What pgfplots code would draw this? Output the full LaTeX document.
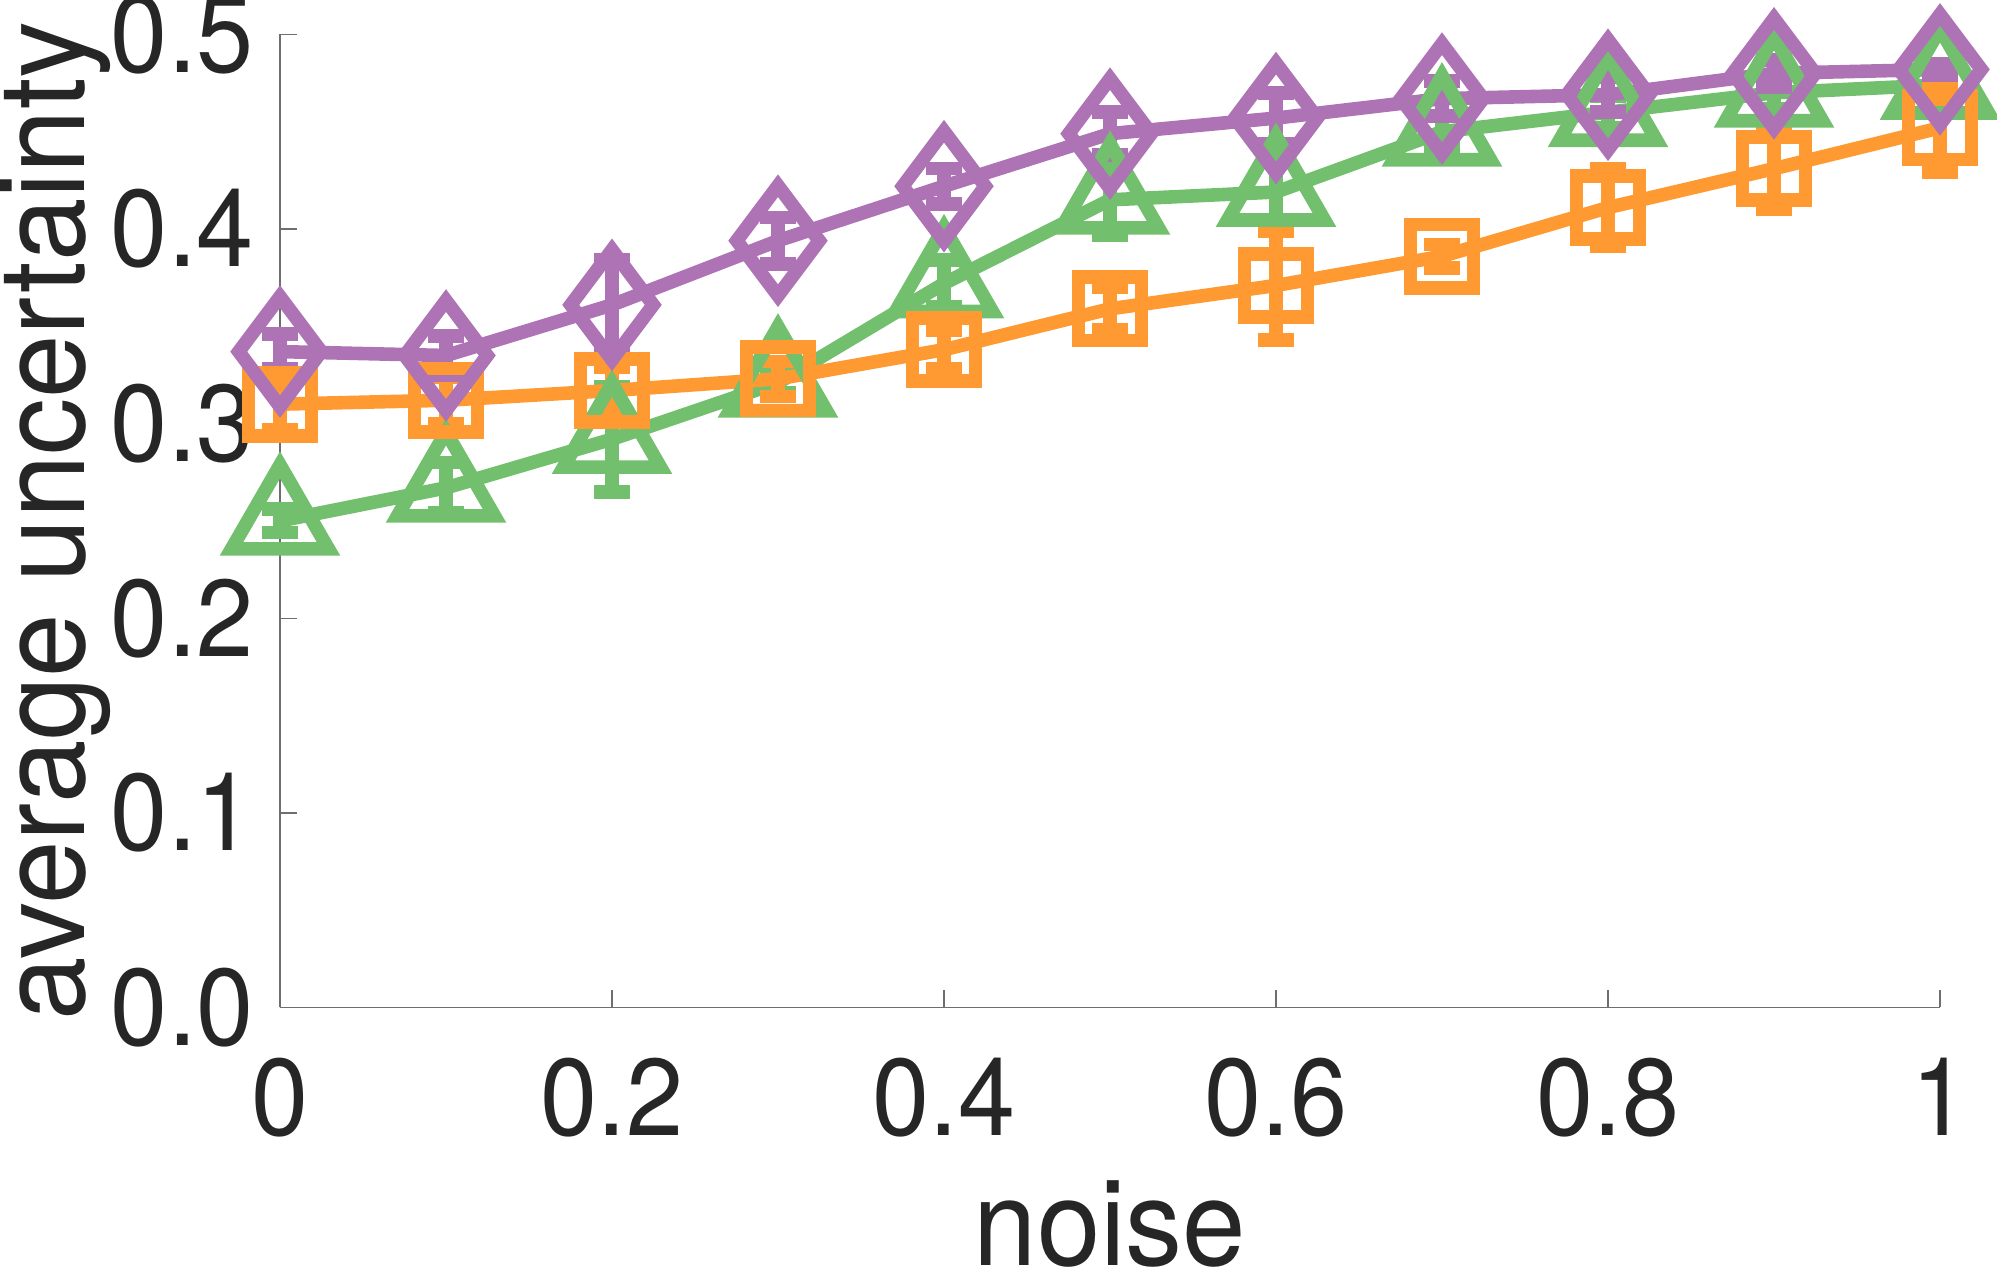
\documentclass[border=0pt]{standalone}
\usepackage{pgfplots}
\pgfplotsset{compat=1.18}
\usepackage{pgfplotstable}
\usepackage{fontspec}
\setmainfont{TeX Gyre Heros}
\definecolor{cgreen}{RGB}{114,191,110}
\definecolor{corange}{RGB}{255,154,51}
\definecolor{cpurple}{RGB}{173,115,181}
\definecolor{ctext}{RGB}{38,38,38}
\definecolor{caxis}{RGB}{110,110,110}

\pgfplotstableread{
x y e
0.0 0.250 0.006
0.1 0.267 0.013
0.2 0.292 0.027
0.3 0.321 0.005
0.4 0.372 0.012
0.5 0.415 0.018
0.6 0.419 0.020
0.7 0.450 0.008
0.8 0.460 0.008
0.9 0.470 0.008
1.0 0.474 0.008
}\greendata

\pgfplotstableread{
x y e
0.0 0.310 0.013
0.1 0.312 0.012
0.2 0.317 0.012
0.3 0.323 0.009
0.4 0.338 0.010
0.5 0.359 0.011
0.6 0.371 0.028
0.7 0.386 0.006
0.8 0.411 0.020
0.9 0.431 0.021
1.0 0.452 0.023
}\orangedata

\pgfplotstableread{
x y e
0.0 0.337 0.009
0.1 0.335 0.010
0.2 0.361 0.023
0.3 0.394 0.012
0.4 0.422 0.009
0.5 0.449 0.011
0.6 0.457 0.013
0.7 0.467 0.009
0.8 0.469 0.009
0.9 0.480 0.007
1.0 0.482 0.003
}\purpledata

\begin{document}
\begin{tikzpicture}
\begin{axis}[
  scale only axis, width=415pt, height=243.25pt,
  xmin=0, xmax=1, ymin=0, ymax=0.5,
  axis x line*=bottom, axis y line*=left,
  axis line style={caxis, line width=0.35pt},
  tick align=inside, major tick length=4.25pt,
  tick style={caxis, line width=0.35pt},
  xtick={0,0.2,0.4,0.6,0.8,1}, xticklabels={0,0.2,0.4,0.6,0.8,1},
  ytick={0,0.1,0.2,0.3,0.4,0.5}, yticklabels={0.0,0.1,0.2,0.3,0.4,0.5},
  ticklabel style={font=\fontsize{27.3}{30}\selectfont, text=ctext, inner sep=0pt, xscale=0.94},
  xticklabel style={anchor=north, yshift=-12.5pt},
  yticklabel style={anchor=east, xshift=-6.8pt},
  xlabel={noise}, ylabel={average uncertainty},
  label style={font=\fontsize{30}{34}\selectfont, text=ctext, inner sep=0pt},
  xlabel style={at={(axis description cs:0.5,-0.26516)}, anchor=base, xscale=0.95},
  ylabel style={at={(axis description cs:-0.11747,0.5)}, anchor=base, xscale=0.95},
  clip=false,
]
\addplot[cgreen, line width=3.4pt, mark=triangle, mark size=14pt,
  mark options={solid, line join=miter, fill=none},
  error bars/.cd, y dir=both, y explicit,
  error bar style={line width=3.4pt, cgreen},
  error mark options={rotate=90, line width=3.4pt, mark size=4.6pt, cgreen}]
  table[x=x, y=y, y error=e]{\greendata};
\addplot[corange, line width=3.4pt, mark=square, mark size=7.9pt,
  mark options={solid, line join=miter, fill=none},
  error bars/.cd, y dir=both, y explicit,
  error bar style={line width=3.4pt, corange},
  error mark options={rotate=90, line width=3.4pt, mark size=4.6pt, corange}]
  table[x=x, y=y, y error=e]{\orangedata};
\addplot[cpurple, line width=3.4pt, mark=diamond, mark size=13.75pt,
  mark options={solid, line join=miter, fill=none},
  error bars/.cd, y dir=both, y explicit,
  error bar style={line width=3.4pt, cpurple},
  error mark options={rotate=90, line width=3.4pt, mark size=4.6pt, cpurple}]
  table[x=x, y=y, y error=e]{\purpledata};
\end{axis}
\pgfresetboundingbox
\path[use as bounding box] (-70pt,-64.85pt) rectangle (429.25pt,251.85pt);
\end{tikzpicture}
\end{document}
